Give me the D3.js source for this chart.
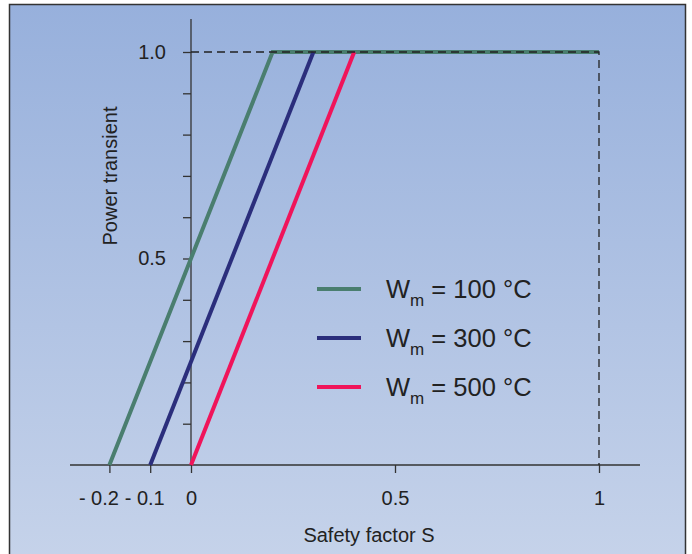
<!DOCTYPE html>
<html>
<head>
<meta charset="utf-8">
<script src="https://d3js.org/d3.v7.min.js"></script>
<style>
body { margin: 0; background: #fff; }
svg text { font-family: "Liberation Sans", Arial, sans-serif; fill: #222; }
</style>
</head>
<body>
<svg id="chart" width="692" height="554"></svg>
<script>
// series: safety factor S where power starts / reaches full
var seriesNames = ["100", "300", "500"];
var seriesColors = ["#4a7e6f", "#2b2e7c", "#f0145a"];
var seriesX = [[-0.2, 0.2, 1], [-0.1, 0.3], [0, 0.4]];
var seriesY = [[0, 1, 1], [0, 1], [0, 1]];

var xTicks = [-0.2, -0.1, 0, 0.5, 1];
var xTickLabels = ["- 0.2", "- 0.1", "0", "0.5", "1"];
var yTicks = [0.1, 0.2, 0.3, 0.4, 0.5, 0.6, 0.7, 0.8, 0.9, 1.0];
var yTickLabels = {0.5: "0.5", 1: "1.0"};

var svg = d3.select("#chart");

var grad = svg.append("defs").append("linearGradient")
  .attr("id", "bg").attr("x1", 0).attr("y1", 0).attr("x2", 0).attr("y2", 1);
grad.append("stop").attr("offset", "0%").attr("stop-color", "#97b0dc");
grad.append("stop").attr("offset", "100%").attr("stop-color", "#c6d3ea");

svg.append("rect")
  .attr("x", 9.5).attr("y", 4.5).attr("width", 676).attr("height", 560)
  .attr("fill", "url(#bg)").attr("stroke", "#333").attr("stroke-width", 1.5);

var x = d3.scaleLinear().domain([0, 1]).range([191, 599]);
var y = d3.scaleLinear().domain([0, 1]).range([465, 52]);

// axis lines
svg.append("line").attr("x1", 70).attr("x2", 640).attr("y1", y(0)).attr("y2", y(0))
  .attr("stroke", "#333").attr("stroke-width", 1.3);
svg.append("line").attr("x1", x(0)).attr("x2", x(0)).attr("y1", 19).attr("y2", y(0))
  .attr("stroke", "#333").attr("stroke-width", 1.3);

// x ticks
var xAxis = d3.axisBottom(x).tickValues(xTicks).tickSize(8).tickPadding(18)
  .tickFormat(function(d, i) { return xTickLabels[i]; });
var gx = svg.append("g").attr("transform", "translate(0," + y(0) + ")").call(xAxis);
gx.select(".domain").remove();
gx.selectAll("line").attr("stroke", "#333").attr("stroke-width", 1.3);
gx.selectAll("text").style("font-size", "20px").attr("fill", "#222")
  .attr("dx", function(d) { return d < 0 ? (d < -0.15 ? -11 : -6) : 0; });

// y ticks
var yAxis = d3.axisLeft(y).tickValues(yTicks).tickSize(8).tickPadding(17)
  .tickFormat(function(d) { return yTickLabels[d] || ""; });
var gy = svg.append("g").attr("transform", "translate(" + x(0) + ",0)").call(yAxis);
gy.select(".domain").remove();
gy.selectAll("line").attr("stroke", "#333").attr("stroke-width", 1.3);
gy.selectAll("text").style("font-size", "20px").attr("fill", "#222");

// series lines
var line = d3.line().x(function(d) { return x(d[0]); }).y(function(d) { return y(d[1]); });
seriesX.forEach(function(xs, i) {
  var pts = xs.map(function(v, j) { return [v, seriesY[i][j]]; });
  svg.append("path").attr("d", line(pts)).attr("fill", "none")
    .attr("stroke", seriesColors[i]).attr("stroke-width", 4)
    .attr("stroke-linejoin", "miter");
});

// dashed guides
svg.append("path")
  .attr("d", line([[0, 1], [1, 1], [1, 0]]))
  .attr("fill", "none").attr("stroke", "#222").attr("stroke-width", 1.3)
  .attr("stroke-dasharray", "8,5");

// legend
seriesNames.forEach(function(name, i) {
  var ly = 289 + i * 49;
  svg.append("line").attr("x1", 317).attr("x2", 361).attr("y1", ly).attr("y2", ly)
    .attr("stroke", seriesColors[i]).attr("stroke-width", 4);
  var t = svg.append("text").attr("x", 386).attr("y", ly + 9).style("font-size", "25.5px");
  t.append("tspan").text("W");
  t.append("tspan").attr("dy", 8).style("font-size", "17px").text("m");
  t.append("tspan").attr("dy", -8).text(" = " + name + " \u00b0C");
});

// axis titles
svg.append("text").attr("x", 369).attr("y", 542).attr("text-anchor", "middle")
  .style("font-size", "20px").text("Safety factor S");
svg.append("text").attr("transform", "translate(117,176) rotate(-90)")
  .attr("text-anchor", "middle").style("font-size", "20px").text("Power transient");
</script>
</body>
</html>
